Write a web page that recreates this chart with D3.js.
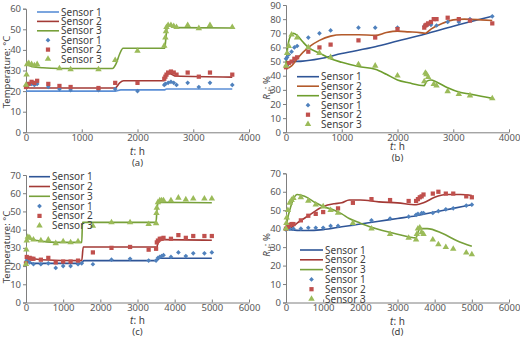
<!DOCTYPE html>
<meta charset="utf-8">
<script src="https://d3js.org/d3.v7.min.js"></script>
<style>
  body { margin: 0; background: #fff; }
  text { font-family: "Noto Sans", "Open Sans", sans-serif; }
</style>
<body>
<div id="chart"></div>
<script>
// ---- data ----
var seriesNames = ["Sensor 1", "Sensor 2", "Sensor 3"];

// (a) temperature, first test
var aLine1 = [[0,20],[1600,20],[1700,20.6],[2480,20.6],[2520,21],[3700,21]];
var aLine2 = [[0,22],[60,21.5],[1600,21.5],[1680,24],[1750,25],[2480,25],[2500,27],[2530,28.5],[2580,28.5],[2680,27.3],[3700,26.8]];
var aLine3 = [[0,33],[100,32],[300,31.3],[600,31],[1550,31],[1610,33],[1680,38],[1740,40.8],[2490,40.8],[2510,46],[2540,51.5],[2600,51.5],[2700,50.8],[3700,50.6]];
var aPts1 = [[0,22.5],[30,23],[50,23.5],[100,23.5],[150,23],[200,23.5],[400,22],[600,21],[800,20.5],[1300,20.5],[1600,21],[2000,20],[2480,23],[2500,23.5],[2550,24],[2600,24.5],[2650,24],[2700,23],[2900,24],[3100,22],[3300,24],[3700,23]];
var aPts2 = [[0,22],[20,23],[50,23.5],[100,24.5],[150,24],[200,25],[400,23.5],[600,22.5],[800,22],[1300,21.5],[1600,24],[2000,24],[2480,26],[2500,27],[2520,28],[2550,29],[2600,29.5],[2650,29],[2700,28],[2900,29],[3100,27],[3300,29],[3700,28]];
var aPts3 = [[0,23],[10,28],[20,33],[50,33.5],[100,33],[150,32.5],[200,33],[600,31],[800,30.5],[1300,30.5],[1600,35],[2000,39.5],[2480,42],[2500,46],[2510,49],[2520,51],[2550,52],[2600,52],[2650,51.5],[2700,51],[2900,52],[3100,50.5],[3300,52],[3700,51]];

// (b) relative humidity, first test
var bLine1 = [[0,45],[100,50],[300,50.3],[600,52],[1000,55.7],[1600,60.5],[2000,64.5],[2500,69.5],[3000,75],[3700,82]];
var bLine2 = [[0,45],[100,47],[200,52],[400,60],[600,65],[800,68],[1000,69],[1300,69],[1600,68.5],[1800,70.5],[2000,71.5],[2200,71],[2400,70.5],[2500,70],[2600,73],[2800,77],[3000,79.5],[3200,80],[3500,79.5],[3700,79]];
var bLine3 = [[0,48],[30,60],[80,68],[130,70],[200,68.5],[300,64],[400,60],[600,56],[800,52],[1000,49.5],[1300,46.5],[1600,44.5],[1800,41],[2000,37],[2200,35],[2480,33],[2520,36],[2600,37],[2700,35.5],[2900,31.5],[3100,28.5],[3300,27],[3500,25.5],[3700,24]];
var bPts1 = [[0,52],[20,53],[50,55],[100,57],[150,60],[200,61],[400,67],[600,70],[800,72],[1300,74],[1600,74],[2000,74],[2480,75],[2500,75.5],[2550,76.5],[2600,76],[2700,75.5],[2900,78],[3100,78],[3300,80],[3700,82]];
var bPts2 = [[0,46],[50,49],[100,50],[150,52],[200,53],[400,57],[600,60],[800,62],[1300,65],[1600,67],[2000,73],[2480,74],[2500,75.5],[2520,76],[2550,77],[2600,78],[2650,80],[2700,80],[2900,81],[3100,80],[3300,79],[3700,77]];
var bPts3 = [[0,47],[20,56],[50,61],[100,69],[200,67],[400,60],[600,56],[800,53],[1300,48],[1600,47],[2000,40],[2480,36],[2500,42],[2520,41],[2550,39],[2650,34],[2700,33],[2900,29],[3100,27],[3300,26],[3700,24]];

// (c) temperature, second test
var cLine1 = [[0,24],[100,22],[200,21.5],[1500,21.5],[1550,23],[3500,23],[3550,23.5],[3600,24.3],[5000,24.3]];
var cLine2 = [[0,25],[200,24],[400,23.5],[1500,23],[1540,30.5],[3490,30.5],[3510,29],[3550,33],[3700,34.5],[5000,34.2]];
var cLine3 = [[0,36],[100,35],[300,34],[800,33],[1500,33],[1520,44],[3500,44],[3520,50],[3560,55],[5000,54.8]];
var cPts1 = [[0,22],[20,23],[50,22.5],[100,22],[200,21],[400,21],[600,21.5],[800,19],[1000,20],[1200,20],[1400,21],[1500,21.5],[1800,21],[2300,23.5],[2800,24],[3300,23],[3500,23],[3550,24.5],[3600,25],[3650,25.5],[3700,26],[3900,25],[4100,27.5],[4300,25.5],[4500,27],[4800,27],[5000,27.5]];
var cPts2 = [[0,21.5],[20,25],[100,24.5],[150,24],[200,24],[400,23.5],[600,24.5],[800,22],[1000,22.5],[1200,22.5],[1400,23],[1800,27.5],[2300,30],[2800,30.5],[3300,29],[3500,29.5],[3520,33],[3550,34],[3600,35],[3650,35],[3700,35.5],[3900,35],[4100,37],[4300,35.5],[4500,36.5],[4800,36.5],[5000,36.5]];
var cPts3 = [[0,21],[10,29],[20,34],[50,36],[100,35.5],[200,34.5],[400,34],[600,34.5],[800,32.5],[1000,33.5],[1200,33],[1400,33.5],[1800,42],[2300,44],[2800,44],[3300,43],[3500,43.5],[3510,49],[3520,52],[3550,55],[3600,56],[3650,56],[3700,56],[3900,56],[4100,57.5],[4300,56.5],[4500,57],[4800,57],[5000,57]];

// (d) relative humidity, second test
var dLine1 = [[0,40],[100,39.5],[500,39],[1000,39.5],[1500,41],[2000,42.5],[2500,44],[3000,45.5],[3500,47],[4000,49],[4500,51],[5000,53]];
var dLine2 = [[0,39],[100,40],[300,43],[600,47],[1000,52],[1300,53.5],[1500,54],[1700,55.5],[2000,55.5],[2500,54.5],[3000,54],[3500,53],[3700,54],[4000,57],[4300,58.5],[4700,58.5],[5000,58]];
var dLine3 = [[0,40],[50,46],[100,50],[200,56],[300,58.5],[500,57.5],[800,54],[1000,52],[1300,50],[1500,48],[1700,45.5],[2000,43],[2500,39.5],[3000,37],[3500,35],[3550,38],[3600,40],[3800,40],[4200,37.5],[4600,33.5],[5000,30.5]];
var dPts1 = [[0,39.5],[50,41],[100,40],[200,40],[400,40],[600,40.5],[800,40.5],[1000,40.5],[1200,41.5],[1400,41.5],[1800,42.5],[2300,44.5],[2800,45.5],[3300,46.5],[3500,47.5],[3550,48],[3650,48.5],[3700,48.5],[3950,48.5],[4100,49.5],[4300,50.5],[4500,51],[4850,52.5],[5000,53]];
var dPts2 = [[0,40],[50,41],[100,42],[150,42.5],[200,42.5],[400,44.5],[600,47],[800,48],[1000,49],[1400,51],[1800,54],[2300,56],[2800,55.5],[3300,55],[3500,55],[3550,56],[3600,57],[3650,57.5],[3700,58.5],[3950,59],[4100,60],[4300,59],[4500,59],[4850,57.5],[5000,57]];
var dPts3 = [[0,40],[10,43],[20,46],[50,50],[100,54],[150,55.5],[200,56.5],[400,57],[600,55],[800,53],[1000,52],[1200,50],[1400,48.5],[1800,43],[2300,40],[2800,37],[3300,35],[3500,34],[3520,37],[3550,40],[3600,40.5],[3650,38],[3700,37],[3950,34],[4100,31.5],[4300,30],[4500,29],[4850,27],[5000,26]];

var ticksA = { x: [0,1000,2000,3000,4000], y: [0,10,20,30,40,50,60] };
var ticksB = { x: [0,1000,2000,3000,4000], y: [0,10,20,30,40,50,60,70,80,90] };
var ticksC = { x: [0,1000,2000,3000,4000,5000,6000], y: [0,10,20,30,40,50,60,70] };
var ticksD = { x: [0,1000,2000,3000,4000,5000,6000], y: [0,10,20,30,40,50,60,70] };

// ---- drawing ----
var svg = d3.select("#chart").append("svg")
    .attr("width", 520)
    .attr("height", 338);

var markerColors = ["#4F81BD", "#C0504D", "#9BBB59"];
var shapes = [d3.symbolSquare, d3.symbolSquare, d3.symbolTriangle];
var sizes = [11, 18, 18];
var rotations = [45, 0, 0];   // diamond = rotated square

function drawPanel(p) {
  var g = svg.append("g");
  var x = d3.scaleLinear().domain([0, d3.max(p.ticks.x)]).range([p.left, p.right]);
  var y = d3.scaleLinear().domain([0, d3.max(p.ticks.y)]).range([p.bottom, p.top]);

  var yAxis = g.append("g")
    .attr("transform", "translate(" + p.left + ",0)")
    .call(d3.axisLeft(y).tickValues(p.ticks.y).tickFormat(d3.format("d")).tickSize(3).tickPadding(2).tickSizeOuter(3));
  var xAxis = g.append("g")
    .attr("transform", "translate(0," + p.bottom + ")")
    .call(d3.axisBottom(x).tickValues(p.ticks.x).tickFormat(d3.format("d")).tickSize(-3).tickPadding(2).tickSizeOuter(0));
  [xAxis, yAxis].forEach(function(a) {
    a.select(".domain").attr("stroke", "#7f7f7f");
    a.selectAll(".tick line").attr("stroke", "#7f7f7f");
    a.selectAll(".tick text").attr("fill", "#595959").style("font-size", "9.5px")
      .style("font-family", "'Noto Sans', sans-serif");
  });

  var line = d3.line()
    .x(function(d) { return x(d[0]); })
    .y(function(d) { return y(d[1]); })
    .curve(d3.curveMonotoneX);

  p.lines.forEach(function(ln, i) {
    g.append("path").datum(ln)
      .attr("d", line)
      .attr("fill", "none")
      .attr("stroke", p.lineColors[i])
      .attr("stroke-width", 1.6);
  });

  p.points.forEach(function(pts, i) {
    g.append("g").selectAll("path").data(pts).enter().append("path")
      .attr("transform", function(d) { return "translate(" + x(d[0]) + "," + y(d[1]) + ") rotate(" + rotations[i] + ")"; })
      .attr("d", d3.symbol().type(shapes[i]).size(sizes[i]))
      .attr("fill", markerColors[i]);
  });

  // legend
  var lg = g.append("g");
  seriesNames.forEach(function(name, i) {
    var ly = p.legY + i * p.legStep;
    lg.append("line")
      .attr("x1", p.legX).attr("x2", p.legX + p.legLen)
      .attr("y1", ly).attr("y2", ly)
      .attr("stroke", p.lineColors[i]).attr("stroke-width", 1.6);
    lg.append("text").attr("x", p.legX + p.legLen + 2).attr("y", ly + 3.5)
      .attr("fill", "#404040").style("font-size", "10px").text(name);
  });
  seriesNames.forEach(function(name, i) {
    var ly = p.legY + (i + 3) * p.legStep;
    lg.append("path")
      .attr("transform", "translate(" + (p.legX + p.legLen / 2) + "," + ly + ") rotate(" + rotations[i] + ")")
      .attr("d", d3.symbol().type(shapes[i]).size(sizes[i]))
      .attr("fill", markerColors[i]);
    lg.append("text").attr("x", p.legX + p.legLen + 2).attr("y", ly + 3.5)
      .attr("fill", "#404040").style("font-size", "10px").text(name);
  });

  // x title
  var xt = g.append("text")
    .attr("x", (p.left + p.right) / 2).attr("y", p.xTitleY)
    .attr("text-anchor", "middle").attr("fill", "#404040").style("font-size", "10px");
  xt.append("tspan").style("font-style", "italic").text("t");
  xt.append("tspan").text(": h");

  g.append("text")
    .attr("x", (p.left + p.right) / 2).attr("y", p.xTitleY + p.labelGap)
    .attr("text-anchor", "middle").attr("fill", "#404040").style("font-size", "9.5px")
    .text(p.label);

  // y title
  var yt = g.append("text")
    .attr("transform", "translate(" + p.yTitleX + "," + p.yTitleY + ") rotate(-90)")
    .attr("text-anchor", "middle").attr("fill", "#404040").style("font-size", "9.5px");
  if (p.rh) {
    yt.append("tspan").style("font-style", "italic").text("R");
    yt.append("tspan").attr("dy", 3).style("font-size", "7px").text("H");
    yt.append("tspan").attr("dy", -3).text(": %");
  } else {
    yt.text("Temperature: \u00b0C");
  }
}

drawPanel({ left: 26, right: 249, top: 8.7, bottom: 132.3, ticks: ticksA,
  lines: [aLine1, aLine2, aLine3], points: [aPts1, aPts2, aPts3],
  lineColors: ["#5B8FD6", "#A33A36", "#77A03A"],
  legX: 37, legY: 12, legStep: 9.4, legLen: 22,
  xTitleY: 155, labelGap: 11, label: "(a)", yTitleX: 10, yTitleY: 72, rh: false });

drawPanel({ left: 286, right: 509, top: 5, bottom: 132.3, ticks: ticksB,
  lines: [bLine1, bLine2, bLine3], points: [bPts1, bPts2, bPts3],
  lineColors: ["#2F5597", "#B35A2B", "#6E9E2E"],
  legX: 297, legY: 76.7, legStep: 9.5, legLen: 22,
  xTitleY: 150, labelGap: 11, label: "(b)", yTitleX: 270, yTitleY: 88, rh: true });

drawPanel({ left: 26, right: 249, top: 175, bottom: 302.5, ticks: ticksC,
  lines: [cLine1, cLine2, cLine3], points: [cPts1, cPts2, cPts3],
  lineColors: ["#2F5597", "#A33A36", "#77A03A"],
  legX: 29, legY: 176.7, legStep: 9.8, legLen: 21,
  xTitleY: 324, labelGap: 11, label: "(c)", yTitleX: 10, yTitleY: 247, rh: false });

drawPanel({ left: 286, right: 509, top: 173.3, bottom: 302.5, ticks: ticksD,
  lines: [dLine1, dLine2, dLine3], points: [dPts1, dPts2, dPts3],
  lineColors: ["#2F5597", "#A33A36", "#77A03A"],
  legX: 300, legY: 250, legStep: 9.8, legLen: 23,
  xTitleY: 325, labelGap: 9.5, label: "(d)", yTitleX: 270, yTitleY: 245, rh: true });
</script>
</body>
